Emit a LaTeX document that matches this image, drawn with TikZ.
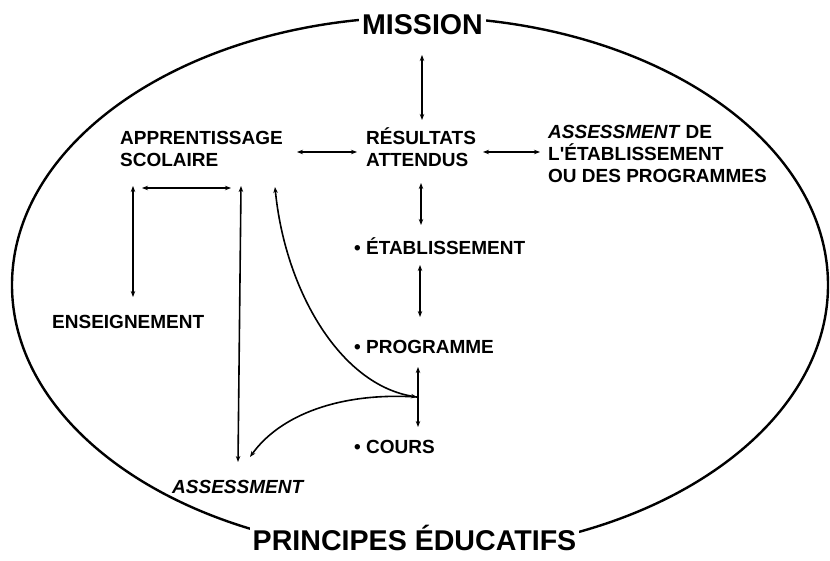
\documentclass[tikz,border=0pt]{standalone}
\usepackage{fontspec}
\setmainfont{Liberation Sans}
\usetikzlibrary{arrows.meta}
\begin{document}
\begin{tikzpicture}[x=1pt,y=-1pt,
  conn/.style={line width=1.6pt,{Stealth[length=6pt,width=4.5pt]}-{Stealth[length=6pt,width=4.5pt]}},
  oneway/.style={line width=1.6pt,-{Stealth[length=6pt,width=4.5pt]}},
  title/.style={font=\fontsize{28.6}{30}\selectfont\bfseries,fill=white,inner sep=3pt,anchor=base},
  lbl/.style={font=\fontsize{19}{22}\selectfont\bfseries,align=left,inner sep=0pt,anchor=base west}]
\useasboundingbox (0,0) rectangle (830,561);
\draw[line width=2.4pt] (420,285) ellipse [x radius=408pt, y radius=268pt];
\node[title] (mission) at (422.5,35) {MISSION};
\node[title,text depth=9pt] (principes) at (414.5,550) {PRINCIPES ÉDUCATIFS};
\node[lbl] (appr) at (120,167) {APPRENTISSAGE\\SCOLAIRE};
\node[lbl] (resu) at (366,167) {RÉSULTATS\\ATTENDUS};
\node[lbl] (assessprog) at (548,183) {\textit{ASSESSMENT} DE\\L\textquotesingle ÉTABLISSEMENT\\OU DES PROGRAMMES};
\node[lbl] (enseig) at (52,328) {ENSEIGNEMENT};
\node[lbl] (etab) at (354,255) {\textbullet\ ÉTABLISSEMENT};
\node[lbl] (prog) at (354,353) {\textbullet\ PROGRAMME};
\node[lbl] (cours) at (354,453) {\textbullet\ COURS};
\node[lbl] (assess) at (172,493) {\textit{ASSESSMENT}};
% endpoints
\coordinate (m1) at (422,55);  \coordinate (m2) at (422,120);
\coordinate (h1a) at (297,152); \coordinate (h1b) at (357,152);
\coordinate (h2a) at (483,152); \coordinate (h2b) at (540,152);
\coordinate (v1a) at (421,183); \coordinate (v1b) at (421,225);
\coordinate (v2a) at (420,265); \coordinate (v2b) at (420,317);
\coordinate (v3a) at (418,367); \coordinate (v3b) at (418,427);
\coordinate (j) at (417,397);
\coordinate (l1a) at (133,186); \coordinate (l1b) at (133,297);
\coordinate (l2a) at (142,188); \coordinate (l2b) at (231,188);
\coordinate (l3a) at (241,186); \coordinate (l3b) at (238,462);
\coordinate (c1a) at (275,187);
\coordinate (c2b) at (250,457);
\draw[conn] (m1) -- (m2);
\draw[conn] (h1a) -- (h1b);
\draw[conn] (h2a) -- (h2b);
\draw[conn] (v1a) -- (v1b);
\draw[conn] (v2a) -- (v2b);
\draw[conn] (v3a) -- (v3b);
\draw[conn] (l1a) -- (l1b);
\draw[conn] (l2a) -- (l2b);
\draw[conn] (l3a) -- (l3b);
\draw[conn] (c1a) .. controls (285,290) and (340,385) .. (j);
\draw[oneway] (j) .. controls (340,392) and (280,415) .. (c2b);
\end{tikzpicture}
\end{document}
